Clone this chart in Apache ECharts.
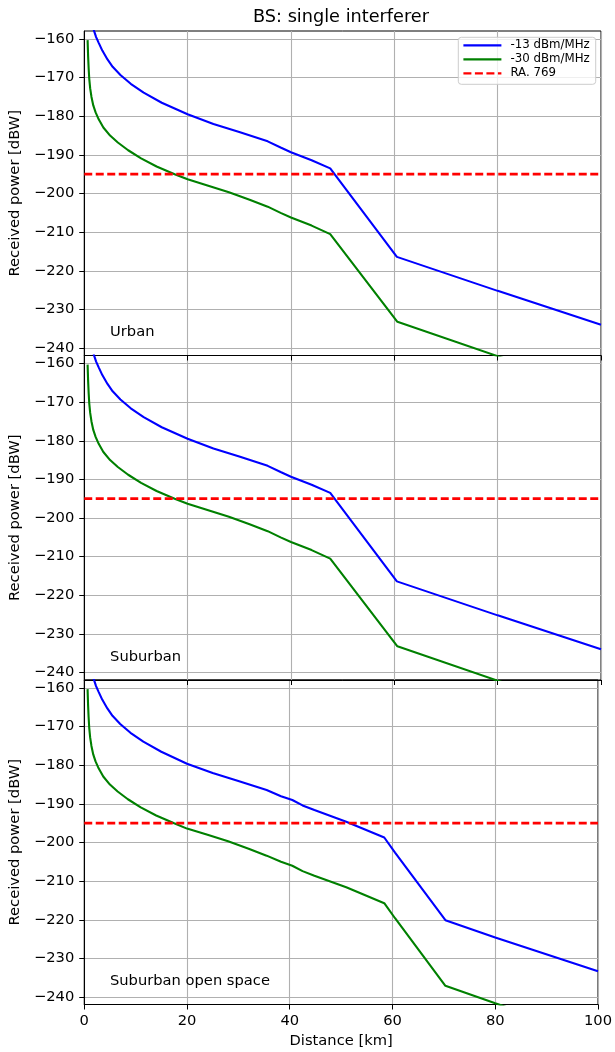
<!DOCTYPE html>
<html><head><meta charset="utf-8">
<script src="https://cdn.jsdelivr.net/npm/echarts@6/dist/echarts.min.js"></script>
<style>html,body{margin:0;padding:0;background:#fff}#c{width:615px;height:1052px}</style>
</head><body><div id="c"></div>
<script>
// ---------- data ----------
const chartTitle = 'BS: single interferer';
const panelNames = ['Urban', 'Suburban', 'Suburban open space'];
const legendNames = ['-13 dBm/MHz', '-30 dBm/MHz', 'RA. 769'];
const xTicks = [0, 20, 40, 60, 80, 100];
const yTicks = [-240, -230, -220, -210, -200, -190, -180, -170, -160];
const raKm = [0, 100];
const raDbw = [-195, -195];

const urbanBlueKm  = [1.7, 1.9, 2.3, 2.8, 3.5, 4.5, 5.5, 7, 9, 11.5, 15, 20, 25, 30, 35.5, 38, 40, 44, 47.6, 60.5, 80, 100];
const urbanBlueDbw = [-156.9, -157.9, -159.5, -161.0, -163.0, -165.3, -167.2, -169.3, -171.6, -173.9, -176.5, -179.5, -182.0, -184.1, -186.5, -188.1, -189.3, -191.4, -193.5, -216.4, -225.2, -234.0];
const urbanGreenKm  = [0.65, 0.75, 0.85, 0.97, 1.15, 1.4, 1.75, 2.2, 2.8, 3.7, 5.0, 6.5, 8.5, 11, 14, 17.5, 20, 24, 28, 32, 35.5, 38, 40, 44, 47.6, 60.6, 80, 100];
const urbanGreenDbw = [-160.3, -164.5, -167.5, -170.3, -172.8, -175.0, -177.2, -179.0, -180.8, -182.9, -185.0, -186.8, -188.8, -190.9, -193.0, -195.0, -196.3, -198.0, -199.7, -201.6, -203.4, -205.0, -206.2, -208.3, -210.5, -233.2, -242.1, -251.0];

const suburbanBlueKm  = [1.7, 1.9, 2.3, 2.8, 3.5, 4.5, 5.5, 7, 9, 11.5, 15, 20, 25, 30, 35.5, 38, 40, 44, 47.6, 60.5, 80, 100];
const suburbanBlueDbw = [-156.9, -157.9, -159.5, -161.0, -163.0, -165.3, -167.2, -169.3, -171.6, -173.9, -176.5, -179.5, -182.0, -184.1, -186.5, -188.1, -189.3, -191.4, -193.5, -216.4, -225.2, -234.0];
const suburbanGreenKm  = [0.65, 0.75, 0.85, 0.97, 1.15, 1.4, 1.75, 2.2, 2.8, 3.7, 5.0, 6.5, 8.5, 11, 14, 17.5, 20, 24, 28, 32, 35.5, 38, 40, 44, 47.6, 60.6, 80, 100];
const suburbanGreenDbw = [-160.3, -164.5, -167.5, -170.3, -172.8, -175.0, -177.2, -179.0, -180.8, -182.9, -185.0, -186.8, -188.8, -190.9, -193.0, -195.0, -196.3, -198.0, -199.7, -201.6, -203.4, -205.0, -206.2, -208.3, -210.5, -233.2, -242.1, -251.0];

const openBlueKm  = [1.7, 1.9, 2.3, 2.8, 3.5, 4.5, 5.5, 7, 9, 11.5, 15, 20, 25, 30, 35.5, 38.3, 40.5, 42.5, 44.8, 51, 58.4, 60.5, 70.3, 80, 100];
const openBlueDbw = [-156.9, -157.9, -159.5, -161.0, -163.0, -165.3, -167.2, -169.3, -171.6, -173.9, -176.5, -179.6, -182.0, -184.1, -186.4, -188.0, -189.0, -190.4, -191.6, -194.6, -198.7, -202.6, -220.1, -224.6, -233.3];
const openGreenKm  = [0.65, 0.75, 0.85, 0.97, 1.15, 1.4, 1.75, 2.2, 2.8, 3.7, 5.0, 6.5, 8.5, 11, 14, 17.5, 20, 24, 28, 32, 35.5, 38.3, 40.5, 42.5, 44.8, 51, 58.4, 60.5, 70.3, 80, 100];
const openGreenDbw = [-160.3, -164.5, -167.5, -170.3, -172.8, -175.0, -177.2, -179.0, -180.8, -182.9, -185.0, -186.8, -188.8, -190.9, -193.0, -195.0, -196.4, -198.0, -199.7, -201.6, -203.4, -205.0, -206.0, -207.4, -208.6, -211.6, -215.7, -219.6, -237.1, -241.6, -250.7];

// ---------- chart ----------
const FONT = 'DejaVu Sans';
const pair = (xs, ys) => xs.map((x, i) => [x, ys[i]]);
const panels = [
  {blue: pair(urbanBlueKm, urbanBlueDbw), green: pair(urbanGreenKm, urbanGreenDbw)},
  {blue: pair(suburbanBlueKm, suburbanBlueDbw), green: pair(suburbanGreenKm, suburbanGreenDbw)},
  {blue: pair(openBlueKm, openBlueDbw), green: pair(openGreenKm, openGreenDbw)}
];
const gridTops = [31, 355.5, 680];
const gridH = 324.5;
const minus = v => String(v).replace('-', '\u2212');

const grids = [], xAxes = [], yAxes = [], series = [];
panels.forEach((p, i) => {
  grids.push({left: 81.5, width: 519.5, top: gridTops[i], height: gridH,
    show: true, borderColor: '#000', borderWidth: 1, backgroundColor: 'transparent'});
  xAxes.push({
    type: 'value', gridIndex: i, min: 0, max: 100, interval: 20,
    axisLine: {show: true, onZero: false, lineStyle: {color: '#000', width: 1}},
    axisTick: {show: true, inside: false, length: 5, lineStyle: {color: '#000', width: 1}},
    axisLabel: {show: i === 2, margin: 9, color: '#000', fontFamily: FONT, fontSize: 14.7},
    splitLine: {show: true, lineStyle: {color: '#b0b0b0', width: 1.1}},
    name: i === 2 ? 'Distance [km]' : '', nameLocation: 'middle', nameGap: 29,
    nameTextStyle: {color: '#000', fontFamily: FONT, fontSize: 14.7}
  });
  yAxes.push({
    type: 'value', gridIndex: i, min: -241.93, max: -157.93,
    axisLine: {show: true, onZero: false, lineStyle: {color: '#000', width: 1}},
    axisTick: {show: true, inside: false, length: 5, customValues: yTicks, lineStyle: {color: '#000', width: 1}},
    axisLabel: {show: true, margin: 10, customValues: yTicks, formatter: minus, color: '#000', fontFamily: FONT, fontSize: 14.7},
    splitLine: {show: true, lineStyle: {color: '#b0b0b0', width: 1.1}},
    name: 'Received power [dBW]', nameLocation: 'middle', nameGap: 58, nameRotate: 90,
    nameTextStyle: {color: '#000', fontFamily: FONT, fontSize: 14.7}
  });
  series.push({name: legendNames[0], type: 'line', xAxisIndex: i, yAxisIndex: i, data: p.blue,
    symbol: 'none', clip: true, lineStyle: {color: '#0000ff', width: 2.1}, itemStyle: {color: '#0000ff'}, z: 3});
  series.push({name: legendNames[1], type: 'line', xAxisIndex: i, yAxisIndex: i, data: p.green,
    symbol: 'none', clip: true, lineStyle: {color: '#008000', width: 2.1}, itemStyle: {color: '#008000'}, z: 3});
  series.push({name: legendNames[2], type: 'line', xAxisIndex: i, yAxisIndex: i, data: pair(raKm, raDbw),
    symbol: 'none', clip: true, lineStyle: {color: '#ff0000', width: 2.8, type: [8, 3.5]}, itemStyle: {color: '#ff0000'}, z: 4});
});

const chart = echarts.init(document.getElementById('c'), null, {renderer: 'canvas'});
chart.setOption({
  animation: false,
  backgroundColor: '#fff',
  grid: grids, xAxis: xAxes, yAxis: yAxes, series: series,
  legend: {
    data: legendNames, orient: 'vertical', left: 458.3, top: 37.3,
    padding: [2, 6, 5, 4], itemWidth: 38, itemHeight: 15, itemGap: 2,
    backgroundColor: 'rgba(255,255,255,0.8)', borderColor: '#cccccc', borderWidth: 1, borderRadius: 3,
    itemStyle: {opacity: 0, borderWidth: 0},
    lineStyle: {width: 2.2},
    textStyle: {color: '#000', fontFamily: FONT, fontSize: 11.8, padding: [0, 0, 0, 4]},
    selectedMode: false
  }
});

const graphics = [{type: 'text', style: {text: chartTitle, x: 341, y: 17, align: 'center', verticalAlign: 'middle',
  fill: '#000', font: '17.7px "DejaVu Sans"'}, z: 10}];
panelNames.forEach((name, i) => {
  const px = chart.convertToPixel({gridIndex: i}, [5, -237]);
  graphics.push({type: 'text', style: {text: name, x: px[0], y: px[1] + 3.5, align: 'left', verticalAlign: 'bottom',
    fill: '#000', font: '14.7px "DejaVu Sans"'}, z: 10});
});
chart.setOption({graphic: graphics});
</script></body></html>
